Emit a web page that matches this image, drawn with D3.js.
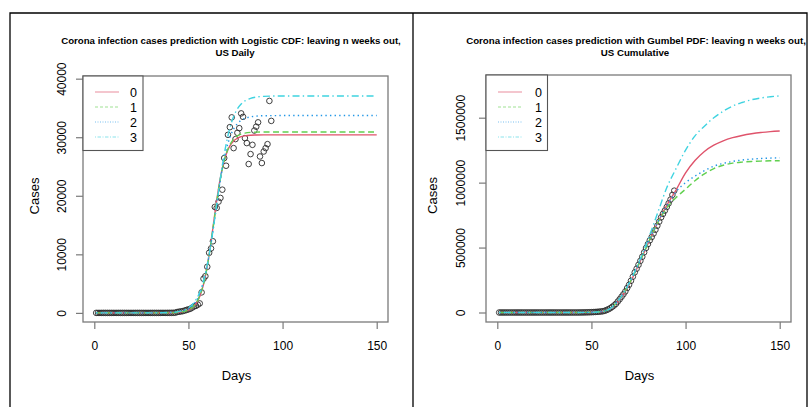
<!DOCTYPE html>
<html><head><meta charset="utf-8">
<script src="https://cdn.jsdelivr.net/npm/d3@7"></script>
<style>
body{margin:0;background:#fff}
svg{display:block}
text{font-family:"Liberation Sans",Arial,Helvetica,sans-serif;fill:#000}
</style>
</head><body>
<svg id="c" width="810" height="407"></svg>
<script>
// ---------------- DATA ----------------
const dayIdx = d3.range(1, 95); // observation days 1..94
const dailyCases = [
  1,0,1,0,3,0,0,0,0,2,
  1,0,3,0,0,0,0,1,0,0,
  0,0,0,0,0,0,0,0,0,0,
  0,0,0,0,0,6,4,3,5,8,
  10,20,30,150,200,250,300,400,500,600,
  700,900,1100,1200,1400,1620,3500,5830,6270,7870,
  10260,11000,12230,18090,17920,19000,19630,21040,26440,25130,
  30410,31720,33390,28140,29680,30750,31550,34070,33480,29850,
  29000,25420,27120,28700,31140,31800,32540,26710,25590,27560,
  28140,28820,36200,32790
];
const cumulativeCases = [
  1,1,2,2,5,5,5,5,5,7,
  8,8,11,11,11,11,11,12,12,12,
  12,12,12,12,12,12,12,12,12,12,
  12,12,12,12,12,18,22,25,30,38,
  48,68,98,248,448,698,998,1398,1898,2498,
  3198,4098,5198,6398,7798,9418,12918,18748,25018,32888,
  43148,54148,66378,84468,102388,121388,141018,162058,188498,213628,
  244038,275758,309148,337288,366968,397718,429268,463338,496818,526668,
  555668,581088,608208,636908,668048,699848,732388,759098,784688,812248,
  840388,869208,905408,938198
];

// fitted curves (Logistic CDF, daily)
const fitDaysLeft = [1,30,40,45,50,53,56,58,60,62,63,64,65,66,68,70,72,74,76,78,80,83,86,90,100,150];
const logistic0 = [0,1,21,99,468,1170,2820,4870,8000,12130,14500,16870,19150,21250,24710,27060,28510,29370,29820,30100,30240,30340,30375,30395,30400,30400];
const logistic1 = [0,1,25,113,510,1230,2890,4910,7940,12010,14290,16610,18890,21040,24600,27130,28700,29670,30220,30520,30690,30820,30870,30890,30900,30900];
const logistic2 = [0,3,47,219,690,1520,3240,5190,8050,11800,13920,16170,18430,20650,24640,27740,29960,31410,32320,32890,33220,33480,33600,33670,33700,33700];
const logistic3 = [0,6,71,248,850,1760,3530,5480,8260,11890,14000,16230,18525,20820,25160,28790,31570,33530,34830,35670,36200,36640,36860,36980,37045,37050];

// fitted curves (Gumbel, cumulative)
const fitDaysRight = [1,40,50,55,60,65,70,75,80,85,90,95,100,105,110,115,120,125,130,135,140,145,150];
const gumbel0 = [0,50,1500,6000,28000,100000,215000,365000,530000,685000,825000,945000,1075000,1170000,1240000,1288000,1322000,1346000,1363000,1376000,1386000,1393000,1398000];
const gumbel1 = [0,40,1500,6000,30000,105000,220000,370000,530000,685000,805000,885000,950000,1015000,1068000,1108000,1134000,1150000,1158000,1163000,1166000,1168000,1169000];
const gumbel2 = [0,40,1500,6500,31000,108000,222000,372000,535000,690000,822000,932000,1000000,1050000,1092000,1127000,1148000,1163000,1174000,1181000,1186000,1189000,1191000];
const gumbel3 = [0,40,1500,6000,30000,105000,225000,380000,560000,760000,960000,1110000,1250000,1360000,1435000,1500000,1550000,1590000,1617000,1638000,1652000,1661000,1668000];

const seriesNames = ["0","1","2","3"];
const xTicks = [0,50,100,150];
const yTicksLeft = [0,10000,20000,30000,40000];
const yTicksRight = [0,500000,1000000,1500000];
const titleLeft = ["Corona infection cases prediction with Logistic CDF: leaving n weeks out,", "US Daily"];
const titleRight = ["Corona infection cases prediction with Gumbel PDF: leaving n weeks out,", "US Cumulative"];
const xLabel = "Days", yLabel = "Cases";

// ---------------- STYLE ----------------
const colors = ["#DF536B","#61D04F","#2297E6","#3FD3E0"];
const dashes = [null,"6,3.5","1.4,3.2","1.4,3.2,7,3.2"];
const legendDashes = [null,"3,2","1,1.5","1,1.5,3.5,1.5"];
const axisGray = "#7a7a7a";

const svg = d3.select("#c");

// outer frames
svg.append("path").attr("d","M10,407V13H807V407M413,13V407")
  .attr("fill","none").attr("stroke","#000").attr("stroke-width",1.3);

const panels = [
  {id:"L", box:{l:83,r:388,t:76,b:322}, yDomain:[-1556,40456], yTicks:yTicksLeft,
   obs:dailyCases, fitDays:fitDaysLeft, fits:[logistic0,logistic1,logistic2,logistic3],
   title:titleLeft, t1x:231, t2x:235, yTickBase:66, yLabX:39,
   legend:{l:83,r:143,t:76,b:150.5, x1:95, x2:119, tx:130}},
  {id:"R", box:{l:486,r:791,t:75,b:322}, yDomain:[-73150,1828800], yTicks:yTicksRight,
   obs:cumulativeCases, fitDays:fitDaysRight, fits:[gumbel0,gumbel1,gumbel2,gumbel3],
   title:titleRight, t1x:636, t2x:635, yTickBase:465, yLabX:436.5,
   legend:{l:486,r:547.5,t:75,b:150.5, x1:498, x2:522, tx:535}}
];

panels.forEach(p => {
  const g = svg.append("g");
  const B = p.box;
  const x = d3.scaleLinear().domain([-6,156]).range([B.l,B.r]);
  const y = d3.scaleLinear().domain(p.yDomain).range([B.b,B.t]);

  // title
  const tt = g.append("g").attr("font-weight","bold");
  const l1 = tt.append("text").attr("x",p.t1x).attr("y",43.5).attr("text-anchor","middle")
    .attr("font-size",10).text(p.title[0]);
  const w = l1.node().getComputedTextLength();
  const fs = 10*340/w;
  l1.attr("font-size",fs);
  tt.append("text").attr("x",p.t2x).attr("y",55.5).attr("text-anchor","middle")
    .attr("font-size",fs).text(p.title[1]);

  // clip
  g.append("clipPath").attr("id","clip"+p.id).append("rect")
    .attr("x",B.l).attr("y",B.t).attr("width",B.r-B.l).attr("height",B.b-B.t);

  // x axis
  const xa = g.append("g").attr("transform",`translate(0,${B.b})`)
    .call(d3.axisBottom(x).tickValues(xTicks).tickSize(7).tickSizeOuter(0).tickPadding(12).tickFormat(d3.format("d")));
  xa.select(".domain").remove();
  xa.selectAll("line").attr("stroke",axisGray).attr("stroke-width",1.2);
  xa.selectAll("text").attr("font-size",12).attr("fill","#000")
    .style("font-family",'"Liberation Sans",Arial,sans-serif');

  // y axis
  const ya = g.append("g").attr("transform",`translate(${B.l},0)`)
    .call(d3.axisLeft(y).tickValues(p.yTicks).tickSize(7).tickSizeOuter(0).tickFormat(d3.format("d")));
  ya.select(".domain").remove();
  ya.selectAll("line").attr("stroke",axisGray).attr("stroke-width",1.2);
  ya.selectAll("text").attr("font-size",12).attr("fill","#000")
    .style("font-family",'"Liberation Sans",Arial,sans-serif')
    .attr("x",null).attr("dy",null).attr("text-anchor","middle")
    .attr("transform",`translate(${p.yTickBase-B.l},0) rotate(-90)`);

  // axis labels
  g.append("text").attr("x",(B.l+B.r)/2+1).attr("y",380).attr("text-anchor","middle")
    .attr("font-size",13).text(xLabel);
  g.append("text").attr("transform",`translate(${p.yLabX},${(B.t+B.b)/2-3}) rotate(-90)`)
    .attr("text-anchor","middle").attr("font-size",13).text(yLabel);

  // box
  g.append("rect").attr("x",B.l).attr("y",B.t).attr("width",B.r-B.l).attr("height",B.b-B.t)
    .attr("fill","none").attr("stroke",axisGray).attr("stroke-width",1.3);

  const plot = g.append("g").attr("clip-path",`url(#clip${p.id})`);

  // observed points
  plot.selectAll("circle").data(p.obs).join("circle")
    .attr("cx",(d,i)=>x(dayIdx[i])).attr("cy",d=>y(d)).attr("r",2.8)
    .attr("fill","none").attr("stroke","#2a2a2a").attr("stroke-width",0.9);

  // fitted curves
  const line = d3.line().x((d,i)=>x(p.fitDays[i])).y(d=>y(d)).curve(d3.curveMonotoneX);
  p.fits.forEach((vals,k) => {
    plot.append("path").attr("d",line(vals)).attr("fill","none")
      .attr("stroke",colors[k]).attr("stroke-width",1.4)
      .attr("stroke-dasharray",dashes[k]);
  });

  // legend
  const L = p.legend;
  const lg = g.append("g");
  lg.append("rect").attr("x",L.l).attr("y",L.t).attr("width",L.r-L.l).attr("height",L.b-L.t)
    .attr("fill","#fff").attr("stroke","#555").attr("stroke-width",1.1);
  seriesNames.forEach((nm,k) => {
    const yy = 92 + k*15;
    lg.append("line").attr("x1",L.x1).attr("x2",L.x2).attr("y1",yy).attr("y2",yy)
      .attr("stroke",colors[k]).attr("stroke-opacity",0.6).attr("stroke-width",1.1)
      .attr("stroke-dasharray",legendDashes[k]);
    lg.append("text").attr("x",L.tx).attr("y",yy+4.5).attr("font-size",12.5).text(nm);
  });
});
</script>
</body></html>
